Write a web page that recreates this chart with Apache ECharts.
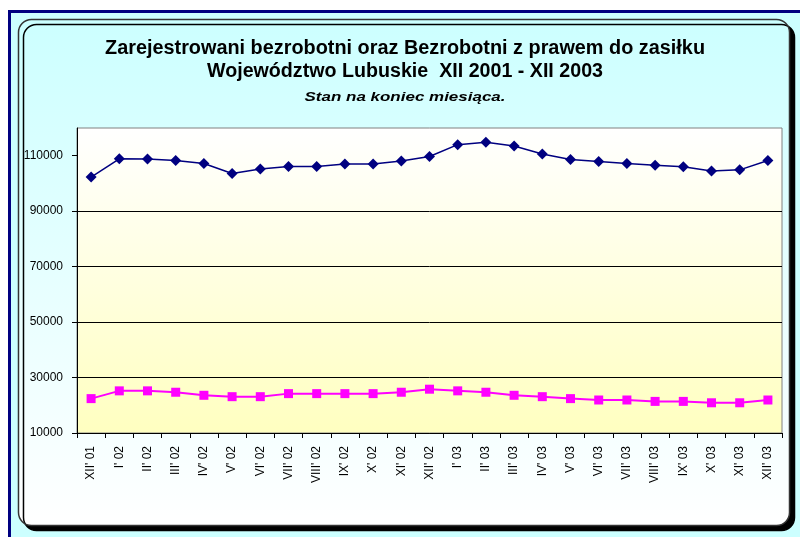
<!DOCTYPE html>
<html>
<head>
<meta charset="utf-8">
<script src="https://cdn.jsdelivr.net/npm/echarts@6/dist/echarts.min.js"></script>
<style>
  html, body { margin: 0; padding: 0; background: #fff; }
  #chart { width: 800px; height: 537px; }
</style>
</head>
<body>
<div id="chart"></div>
<script>
(function(win) {

    var months = ["XII' 01", "I' 02", "II' 02", "III' 02", "IV' 02", "V' 02", "VI' 02", "VII' 02",
        "VIII' 02", "IX' 02", "X' 02", "XI' 02", "XII' 02", "I' 03", "II' 03", "III' 03", "IV' 03",
        "V' 03", "VI' 03", "VII' 03", "VIII' 03", "IX' 03", "X' 03", "XI' 03", "XII' 03"];

    // zarejestrowani bezrobotni
    var registered = [102300, 108900, 108800, 108300, 107200, 103600, 105200, 106100,
        106100, 107000, 107000, 108100, 109700, 114000, 114900, 113500, 110600,
        108600, 107900, 107200, 106600, 106000, 104500, 104900, 108300];

    // bezrobotni z prawem do zasilku
    var withBenefit = [22400, 25200, 25200, 24700, 23600, 23100, 23100, 24200,
        24200, 24200, 24200, 24700, 25800, 25200, 24700, 23600, 23100,
        22400, 21900, 21900, 21400, 21400, 20900, 20900, 21900];

    var yTicks = [10000, 30000, 50000, 70000, 90000, 110000];

    var titleLines = [
        'Zarejestrowani bezrobotni oraz Bezrobotni z prawem do zasiłku',
        'Województwo Lubuskie  XII 2001 - XII 2003',
        'Stan na koniec miesiąca.'
    ];

    var plain = '"Liberation Sans", Arial, sans-serif',
        ctx = document.createElement('canvas').getContext('2d');

    // stretch a title line so it is as wide as in the original
    var titleText = function(text, font, y, width) {
        ctx.font = font;
        var w = ctx.measureText(text).width;
        return {
            type: 'text',
            z: 10,
            x: 405,
            y: y,
            scaleX: width / w,
            style: {
                text: text,
                font: font,
                fill: '#000',
                align: 'center',
                verticalAlign: 'middle'
            }
        };
    };

    var chart = echarts.init(document.getElementById('chart'), null, { renderer: 'canvas' });

    chart.setOption({
        backgroundColor: '#fff',
        animation: false,
        graphic: [{
            type: 'rect',
            z: -10,
            shape: { x: 9.5, y: 11.5, width: 800, height: 540 },
            style: { fill: '#ccffff', stroke: '#000080', lineWidth: 3 }
        }, {
            type: 'rect',
            z: -9,
            shape: { x: 18.5, y: 19.5, width: 771, height: 506, r: 13 },
            style: {
                fill: new echarts.graphic.LinearGradient(0, 0, 0, 1, [
                    { offset: 0, color: '#ccffff' },
                    { offset: 1, color: '#ffffff' }
                ]),
                stroke: '#333',
                lineWidth: 1.5,
                shadowColor: '#000',
                shadowOffsetX: 5,
                shadowOffsetY: 5,
                shadowBlur: 0
            }
        },
            titleText(titleLines[0], 'bold 20px ' + plain, 48, 600),
            titleText(titleLines[1], 'bold 20px ' + plain, 71, 396),
            titleText(titleLines[2], 'italic bold 13px ' + plain, 97, 201)
        ],
        grid: {
            left: 77,
            right: 18,
            top: 128,
            bottom: 104,
            show: true,
            borderColor: '#808080',
            borderWidth: 1,
            backgroundColor: new echarts.graphic.LinearGradient(0, 0, 0, 1, [
                { offset: 0, color: '#ffffff' },
                { offset: 1, color: '#ffffc0' }
            ])
        },
        xAxis: {
            type: 'category',
            data: months,
            boundaryGap: true,
            axisLine: { lineStyle: { color: '#000', width: 1 } },
            axisTick: { show: true, length: 5, alignWithLabel: false, lineStyle: { color: '#000' } },
            axisLabel: {
                interval: 0,
                rotate: 90,
                margin: 13,
                color: '#000',
                fontFamily: plain,
                fontSize: 12
            },
            splitLine: { show: false }
        },
        yAxis: {
            type: 'value',
            min: 10000,
            max: 120000,
            interval: 20000,
            axisLine: { show: true, lineStyle: { color: '#000', width: 1 } },
            axisTick: { show: true, length: 5, customValues: yTicks, lineStyle: { color: '#000' } },
            axisLabel: {
                margin: 14,
                color: '#000',
                fontFamily: plain,
                fontSize: 12,
                customValues: yTicks,
                formatter: function(v) { return String(v); }
            },
            splitLine: { show: true, showMaxLine: false, lineStyle: { color: '#000', width: 1 } }
        },
        series: [{
            name: 'Zarejestrowani bezrobotni',
            type: 'line',
            data: registered,
            symbol: 'diamond',
            symbolSize: 11,
            itemStyle: { color: '#000080' },
            lineStyle: { color: '#000080', width: 1.5 }
        }, {
            name: 'Bezrobotni z prawem do zasiłku',
            type: 'line',
            data: withBenefit,
            symbol: 'rect',
            symbolSize: 9,
            itemStyle: { color: '#ff00ff' },
            lineStyle: { color: '#ff00ff', width: 2 }
        }]
    });

}(this));
</script>
</body>
</html>
